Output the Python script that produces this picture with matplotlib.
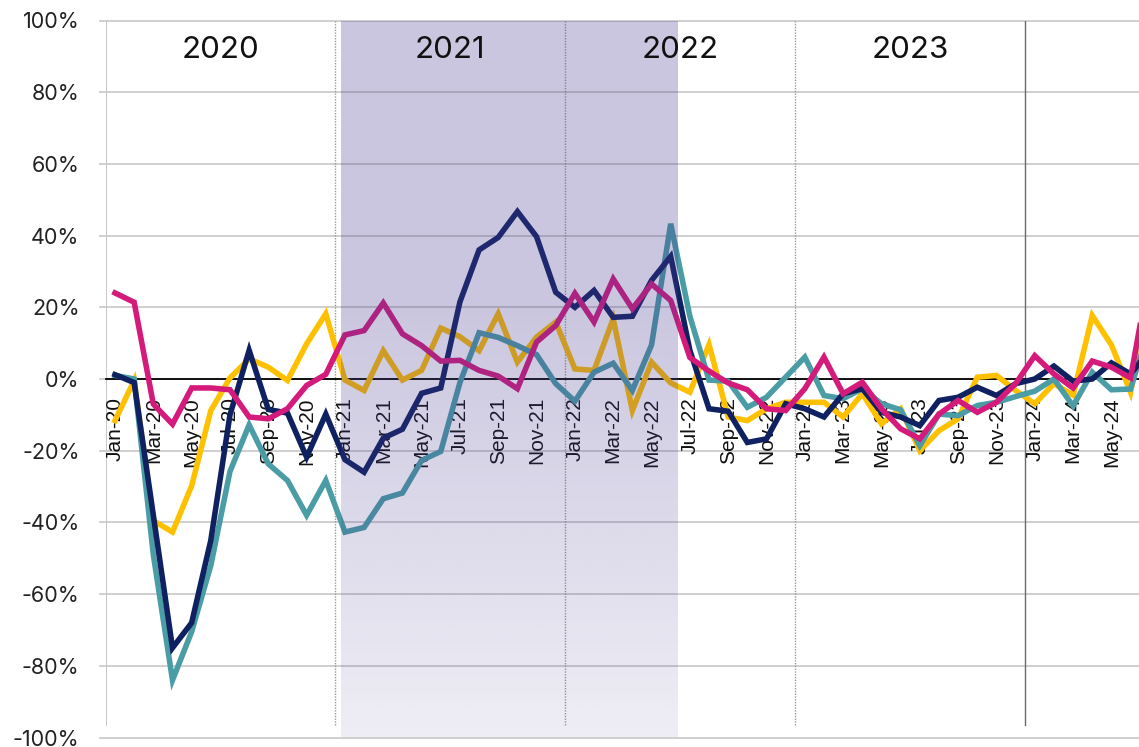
import numpy as np
import matplotlib
matplotlib.use("Agg")
import matplotlib.pyplot as plt
from matplotlib.ticker import FixedLocator, FuncFormatter

months = ["Jan", "Feb", "Mar", "Apr", "May", "Jun", "Jul", "Aug", "Sep", "Oct", "Nov", "Dec"]
categories = [f"{m}-{y}" for y in ["20", "21", "22", "23", "24"] for m in months][:55]

navy = [1.2, -1, -38, -75, -68, -45, -10, 8, -8.5, -9.5, -21.8, -9.8,
        -22.5, -26, -16.5, -14, -4, -2.5, 21.5, 36, 39.5, 46.7, 39.7, 24.2,
        20, 24.7, 17.2, 17.5, 27.5, 34.2, 8, -8.3, -9, -17.7, -16.7, -6.9,
        -8.3, -10.6, -4.1, -2.7, -9.3, -10.6, -13, -6, -5.1, -2.3, -4.6, -1.3,
        0, 3.6, -0.6, 0, 4.5, 1.4, 8]
teal = [1.0, 0, -49, -84, -70.5, -52, -25.8, -12.8, -23.7, -28.3, -38, -28.3,
        -42.7, -41.4, -33.4, -31.8, -22.7, -20.2, -1, 12.9, 11.6, 9.3, 6.8, -1.3,
        -6.2, 1.9, 4.4, -3.2, 9.5, 43.3, 17.5, -0.3, -0.6, -7.9, -5.1, 0.5,
        6.1, -4.6, -5.5, -2.7, -6.9, -8.6, -18.6, -9.8, -10.2, -7.4, -6.5, -4.9,
        -3.4, 0, -7.5, 1.9, -3, -2.8, 15]
yellow = [-11.6, -0.4, -39.5, -42.7, -29.8, -8.8, 0.3, 5.6, 3.3, -0.4, 9.8, 18.2,
          -0.3, -3.2, 7.9, -0.3, 2.4, 14.2, 11.8, 7.9, 18.2, 4.7, 11.7, 15.9,
          2.8, 2.4, 16.8, -8.8, 4.7, -1.1, -3.7, 9.6, -10.6, -11.6, -8.3, -6.5,
          -6.5, -6.5, -10.6, -4.1, -12.5, -8.3, -20, -14.4, -11.1, 0.5, 1, -3.2,
          -6.9, -1.3, -4.5, 17.7, 9.5, -3.7, 23]
magenta = [24, 21.4, -7, -12.6, -2.5, -2.5, -3, -10.6, -11.1, -8.3, -1.8, 1.3,
           12.3, 13.5, 21.2, 12.6, 9.3, 5, 5.2, 2.4, 0.8, -2.7, 10.3, 14.9,
           23.9, 15.9, 27.9, 19.6, 26.5, 21.9, 6, 2.2, -1.1, -3, -8.3, -8.8,
           -2.7, 6.1, -4.1, -0.9, -8.3, -13.9, -16.7, -9.8, -6, -9.3, -6.5, -1.3,
           6.5, 1.4, -2.5, 5, 3.3, 0.3, 30]

years = ["2020", "2021", "2022", "2023"]
ytick_values = [-100, -80, -60, -40, -20, 0, 20, 40, 60, 80, 100]

x = np.arange(len(categories))

W, H = 1139, 747
fig = plt.figure(figsize=(W / 100, H / 100), dpi=100)
ax = fig.add_axes([106 / W, (H - 737.5) / H, 1 - 106 / W, 717 / H])
ax.set_xlim(-0.47, 53.44)
ax.set_ylim(-100, 100)

# grid
for v in ytick_values:
    ax.axhline(v, color="#cccccc", lw=1.3, zorder=1, clip_on=False, xmin=-6 / (W - 106))
for s in ["top", "right", "left"]:
    ax.spines[s].set_visible(False)
ax.plot([-0.47, -0.47], [-96.5, 100], color="#c4c4c4", lw=1.3, zorder=1.5)

# year separators
for b in [11.5, 23.5, 35.5]:
    ax.plot([b, b], [-96.5, 100], color="#9a9a9a", lw=1.0, ls=(0, (1, 1)), zorder=1.5)
ax.plot([47.5, 47.5], [-96.5, 100], color="#6a6a6a", lw=1.0, zorder=1.5)

# zero axis
ax.spines["bottom"].set_position(("data", 0))
ax.spines["bottom"].set_color("black")
ax.spines["bottom"].set_linewidth(1.3)
ax.spines["bottom"].set_zorder(2)

# series
lw = 4.0
ax.plot(x, yellow, color="#ffc000", lw=lw, zorder=3, solid_joinstyle="miter")
ax.plot(x, teal, color="#4a9ca5", lw=lw, zorder=3.1, solid_joinstyle="miter")
ax.plot(x, navy, color="#0f2160", lw=lw, zorder=3.2, solid_joinstyle="miter")
ax.plot(x, magenta, color="#d41b7b", lw=lw, zorder=3.3, solid_joinstyle="miter")

# shaded overlay with gradient
n = 400
yy = np.linspace(100, -100, n)
alpha = np.where(yy > 20, 0.29, 0.29 - (20 - yy) / 120 * 0.20)
rgba = np.zeros((n, 1, 4))
rgba[:, 0, 0] = 72 / 255
rgba[:, 0, 1] = 59 / 255
rgba[:, 0, 2] = 145 / 255
rgba[:, 0, 3] = alpha
ax.imshow(rgba, extent=[11.8, 29.38, -100, 100], aspect="auto", zorder=4,
          interpolation="bilinear", origin="upper")
ax.set_xlim(-0.47, 53.44)
ax.set_ylim(-100, 100)

# year labels
for k, yl in enumerate(years):
    ax.text(5.5 + 12 * k, 91.8, yl, ha="center", va="center", fontsize=22.5,
            family=["Inter", "DejaVu Sans"], color="#111111", zorder=6)

# ticks
ax.yaxis.set_major_locator(FixedLocator(ytick_values))
ax.yaxis.set_major_formatter(FuncFormatter(lambda v, p: f"{int(v)}%"))
ax.tick_params(axis="y", length=0, pad=19, labelsize=15.5, labelcolor="#222222")
for lab in ax.get_yticklabels():
    lab.set_family(["Inter", "DejaVu Sans"])

tick_pos = list(range(0, 54, 2))
ax.xaxis.set_major_locator(FixedLocator(tick_pos))
ax.set_xticklabels([categories[i] for i in tick_pos], rotation=90,
                   family=["Liberation Sans Narrow", "Liberation Sans", "DejaVu Sans"],
                   fontsize=15, color="#111111")
ax.tick_params(axis="x", length=0, pad=13)
for lab in ax.get_xticklabels():
    lab.set_zorder(5)

fig.savefig("out.png", dpi=100)
